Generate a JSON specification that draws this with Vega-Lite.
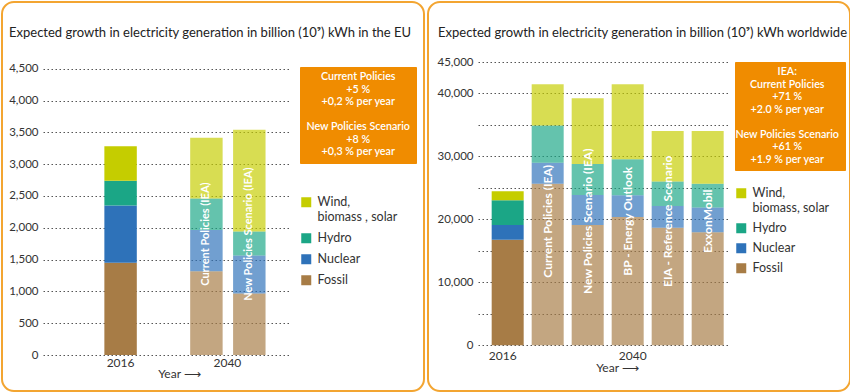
{
  "$schema": "https://vega.github.io/schema/vega-lite/v6.json",
  "padding": {"left": 1, "top": 1, "right": 1, "bottom": 1},
  "background": "white",
  "spacing": 4,
  "bounds": "flush",
  "resolve": {"scale": {"color": "independent", "shape": "independent", "opacity": "independent", "x": "independent", "y": "independent"}, "legend": {"color": "independent", "shape": "independent"}},
  "config": {
    "view": {"stroke": "#f3a531", "strokeWidth": 2, "cornerRadius": 12},
    "font": "Lato",
    "axis": {"labelFont": "Lato", "labelColor": "#333", "labelFontSize": 11.5, "domain": false, "ticks": false, "tickSize": 0, "titleFont": "Lato", "titleFontWeight": "normal", "titleColor": "#333", "titleFontSize": 12},
    "legend": {"labelFont": "Lato"},
    "title": {"font": "Lato", "fontSize": 13, "fontWeight": "normal", "color": "#222"}
  },
  "hconcat": [
    {
      "width": 422,
      "height": 389,
      "title": {"text": "Expected growth in electricity generation in billion (10⁹) kWh in the EU", "anchor": "start", "frame": "group", "offset": -48, "dx": 7, "baseline": "alphabetic"},
      "layer": [
        {
          "data": {"values": [
            {"scenario": "2016", "era": "2016", "source": "Fossil", "k": 1, "value": 1450},
            {"scenario": "2016", "era": "2016", "source": "Nuclear", "k": 2, "value": 900},
            {"scenario": "2016", "era": "2016", "source": "Hydro", "k": 3, "value": 390},
            {"scenario": "2016", "era": "2016", "source": "Wind, biomass, solar", "k": 4, "value": 540},
            {"scenario": "CP", "era": "2040", "source": "Fossil", "k": 1, "value": 1315},
            {"scenario": "CP", "era": "2040", "source": "Nuclear", "k": 2, "value": 650},
            {"scenario": "CP", "era": "2040", "source": "Hydro", "k": 3, "value": 495},
            {"scenario": "CP", "era": "2040", "source": "Wind, biomass, solar", "k": 4, "value": 955},
            {"scenario": "NPS", "era": "2040", "source": "Fossil", "k": 1, "value": 965},
            {"scenario": "NPS", "era": "2040", "source": "Nuclear", "k": 2, "value": 600},
            {"scenario": "NPS", "era": "2040", "source": "Hydro", "k": 3, "value": 375},
            {"scenario": "NPS", "era": "2040", "source": "Wind, biomass, solar", "k": 4, "value": 1600}
          ]},
          "mark": {"type": "bar"},
          "encoding": {
            "x": {"field": "scenario", "type": "nominal",
              "scale": {"domain": ["2016", "gap", "CP", "NPS"], "range": [41, 288], "paddingInner": 0.244, "paddingOuter": 1.134, "align": 0.715},
              "axis": {"title": "Year   ⟶", "titleX": 177, "titleY": 18, "titleBaseline": "middle", "titleAlign": "center", "labelAngle": 0, "labelFontSize": 12, "labelPadding": 2, "offset": -36, "grid": false,
                "labelExpr": "datum.value == '2016' ? '2016' : datum.value == 'CP' ? '2040' : ''",
                "labelOffset": {"condition": {"test": "datum.value == 'CP'", "value": 21}, "value": 0}}},
            "y": {"field": "value", "type": "quantitative", "stack": "zero",
              "scale": {"domain": [0, 4500], "range": [353, 66.7], "nice": false, "zero": true},
              "axis": {"title": null, "values": [0, 500, 1000, 1500, 2000, 2500, 3000, 3500, 4000, 4500], "format": ",.0f", "grid": true, "gridDash": [1.5, 2.5], "gridColor": "#555", "gridWidth": 1, "offset": -39, "labelPadding": 3}},
            "color": {"field": "source", "type": "nominal",
              "scale": {"domain": ["Wind, biomass, solar", "Hydro", "Nuclear", "Fossil"], "range": ["#c5cd00", "#1ba686", "#2e72b9", "#a77c46"]},
              "legend": {"orient": "none", "legendX": 298, "legendY": 194, "title": null, "symbolType": "square", "symbolSize": 100, "symbolStrokeWidth": 0, "labelFontSize": 12.5, "labelColor": "#333", "rowPadding": 8, "padding": 0, "labelOffset": 5,
                "labelExpr": "datum.label == 'Wind, biomass, solar' ? ['Wind,', 'biomass  , solar'] : datum.label"}},
            "opacity": {"field": "era", "type": "ordinal", "scale": {"domain": ["2016", "2040"], "range": [1, 0.68]}, "legend": null},
            "order": {"field": "k", "type": "quantitative"}
          }
        },
        {
          "data": {"values": [
            {"scenario": "CP", "label": "Current Policies (IEA)"},
            {"scenario": "NPS", "label": "New Policies Scenario (IEA)"}
          ]},
          "mark": {"type": "text", "angle": 270, "align": "center", "baseline": "middle", "color": "white", "fontSize": 11, "fontWeight": 700},
          "encoding": {
            "x": {"field": "scenario", "type": "nominal"},
            "y": {"datum": 1900, "type": "quantitative"},
            "text": {"field": "label"}
          }
        },
        {
          "data": {"values": [
            {"line": "Current Policies"}, {"line": "+5 %"}, {"line": "+0,2 % per year"}, {"line": " "},
            {"line": "New Policies Scenario"}, {"line": "+8 %"}, {"line": "+0,3 % per year"}
          ]},
          "mark": {"type": "point", "opacity": 0},
          "encoding": {
            "shape": {"field": "line", "type": "nominal", "sort": null,
              "scale": {"domain": ["Current Policies", "+5 %", "+0,2 % per year", " ", "New Policies Scenario", "+8 %", "+0,3 % per year"]},
              "legend": {"orient": "none", "legendX": 298, "legendY": 65, "title": null, "fillColor": "#f08c00", "strokeColor": "#f08c00", "padding": 5, "symbolSize": 0, "symbolOpacity": 0, "symbolStrokeWidth": 0, "labelAlign": "center", "labelOffset": 42.5, "labelColor": "white", "labelFontSize": 10.7, "labelFontWeight": 600, "rowPadding": 0.5, "labelLimit": 300}}
          }
        }
      ]
    },
    {
      "width": 422,
      "height": 389,
      "title": {"text": "Expected growth in electricity generation in billion (10⁹) kWh worldwide", "anchor": "start", "frame": "group", "offset": -48, "dx": 10, "baseline": "alphabetic"},
      "layer": [
        {
          "data": {"values": [
            {"scenario": "2016", "era": "2016", "source": "Fossil", "k": 1, "value": 16780},
            {"scenario": "2016", "era": "2016", "source": "Nuclear", "k": 2, "value": 2330},
            {"scenario": "2016", "era": "2016", "source": "Hydro", "k": 3, "value": 3920},
            {"scenario": "2016", "era": "2016", "source": "Wind, biomass, solar", "k": 4, "value": 1430},
            {"scenario": "CP", "era": "2040", "source": "Fossil", "k": 1, "value": 25650},
            {"scenario": "CP", "era": "2040", "source": "Nuclear", "k": 2, "value": 3350},
            {"scenario": "CP", "era": "2040", "source": "Hydro", "k": 3, "value": 5900},
            {"scenario": "CP", "era": "2040", "source": "Wind, biomass, solar", "k": 4, "value": 6580},
            {"scenario": "NPS", "era": "2040", "source": "Fossil", "k": 1, "value": 19110},
            {"scenario": "NPS", "era": "2040", "source": "Nuclear", "k": 2, "value": 4770},
            {"scenario": "NPS", "era": "2040", "source": "Hydro", "k": 3, "value": 4920},
            {"scenario": "NPS", "era": "2040", "source": "Wind, biomass, solar", "k": 4, "value": 10450},
            {"scenario": "BP", "era": "2040", "source": "Fossil", "k": 1, "value": 20380},
            {"scenario": "BP", "era": "2040", "source": "Nuclear", "k": 2, "value": 3440},
            {"scenario": "BP", "era": "2040", "source": "Hydro", "k": 3, "value": 5750},
            {"scenario": "BP", "era": "2040", "source": "Wind, biomass, solar", "k": 4, "value": 11900},
            {"scenario": "EIA", "era": "2040", "source": "Fossil", "k": 1, "value": 18690},
            {"scenario": "EIA", "era": "2040", "source": "Nuclear", "k": 2, "value": 3440},
            {"scenario": "EIA", "era": "2040", "source": "Hydro", "k": 3, "value": 3880},
            {"scenario": "EIA", "era": "2040", "source": "Wind, biomass, solar", "k": 4, "value": 8030},
            {"scenario": "Exxon", "era": "2040", "source": "Fossil", "k": 1, "value": 17950},
            {"scenario": "Exxon", "era": "2040", "source": "Nuclear", "k": 2, "value": 3950},
            {"scenario": "Exxon", "era": "2040", "source": "Hydro", "k": 3, "value": 3770},
            {"scenario": "Exxon", "era": "2040", "source": "Wind, biomass, solar", "k": 4, "value": 8370}
          ]},
          "mark": {"type": "bar"},
          "encoding": {
            "x": {"field": "scenario", "type": "nominal",
              "scale": {"domain": ["2016", "CP", "NPS", "BP", "EIA", "Exxon"], "range": [50, 300], "paddingInner": 0.2, "paddingOuter": 0.225, "align": 0.76},
              "axis": {"title": "Year   ⟶", "titleX": 189, "titleY": 22, "titleBaseline": "middle", "titleAlign": "center", "labelAngle": 0, "labelFontSize": 12, "labelPadding": 5, "offset": -45.7, "grid": false,
                "labelExpr": "datum.value == '2016' ? '2016' : datum.value == 'BP' ? '2040' : ''",
                "labelOffset": {"condition": {"test": "datum.value == '2016'", "value": -5}, "value": 5}}},
            "y": {"field": "value", "type": "quantitative", "stack": "zero",
              "scale": {"domain": [0, 45000], "range": [343.3, 60], "nice": false, "zero": true},
              "axis": {"title": null, "values": [0, 5000, 10000, 15000, 20000, 25000, 30000, 35000, 40000, 45000], "format": ",.0f", "grid": true, "gridDash": [1.5, 2.5], "gridColor": "#555", "gridWidth": 1, "offset": -48, "labelPadding": 3,
                "labelExpr": "datum.value % 10000 == 0 || datum.value == 45000 ? datum.label : ''"}},
            "color": {"field": "source", "type": "nominal",
              "scale": {"domain": ["Wind, biomass, solar", "Hydro", "Nuclear", "Fossil"], "range": ["#c5cd00", "#1ba686", "#2e72b9", "#a77c46"]},
              "legend": {"orient": "none", "legendX": 307, "legendY": 185, "title": null, "symbolType": "square", "symbolSize": 100, "symbolStrokeWidth": 0, "labelFontSize": 12.5, "labelColor": "#333", "rowPadding": 7, "padding": 0, "labelOffset": 5,
                "labelExpr": "datum.label == 'Wind, biomass, solar' ? ['Wind,', 'biomass, solar'] : datum.label"}},
            "opacity": {"field": "era", "type": "ordinal", "scale": {"domain": ["2016", "2040"], "range": [1, 0.68]}, "legend": null},
            "order": {"field": "k", "type": "quantitative"}
          }
        },
        {
          "data": {"values": [
            {"scenario": "CP", "label": "Current Policies (IEA)"},
            {"scenario": "NPS", "label": "New Policies Scenario (IEA)"},
            {"scenario": "BP", "label": "BP - Energy Outlook"},
            {"scenario": "EIA", "label": "EIA - Reference Scenario"},
            {"scenario": "Exxon", "label": "ExxonMobil"}
          ]},
          "mark": {"type": "text", "angle": 270, "align": "center", "baseline": "middle", "color": "white", "fontSize": 12, "fontWeight": 700},
          "encoding": {
            "x": {"field": "scenario", "type": "nominal"},
            "y": {"datum": 19700, "type": "quantitative"},
            "text": {"field": "label"}
          }
        },
        {
          "data": {"values": [
            {"line": "IEA:"}, {"line": "Current Policies"}, {"line": "+71 %"}, {"line": "+2.0 % per year"}, {"line": " "},
            {"line": "New Policies Scenario"}, {"line": "+61 %"}, {"line": "+1.9 % per year"}
          ]},
          "mark": {"type": "point", "opacity": 0},
          "encoding": {
            "shape": {"field": "line", "type": "nominal", "sort": null,
              "scale": {"domain": ["IEA:", "Current Policies", "+71 %", "+2.0 % per year", " ", "New Policies Scenario", "+61 %", "+1.9 % per year"]},
              "legend": {"orient": "none", "legendX": 307, "legendY": 60, "title": null, "fillColor": "#f08c00", "strokeColor": "#f08c00", "padding": 5, "symbolSize": 0, "symbolOpacity": 0, "symbolStrokeWidth": 0, "labelAlign": "center", "labelOffset": 36.5, "labelColor": "white", "labelFontSize": 10.7, "labelFontWeight": 600, "rowPadding": 0.5, "labelLimit": 300}}
          }
        }
      ]
    }
  ]
}
